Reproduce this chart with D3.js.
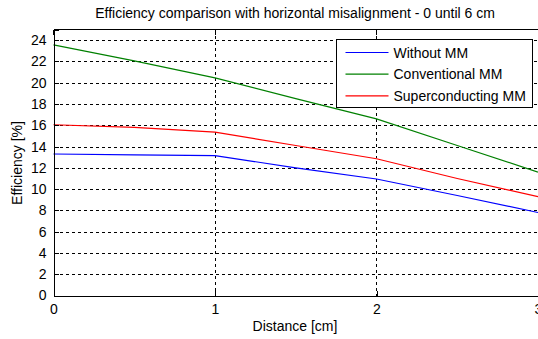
<!DOCTYPE html>
<html>
<head>
<meta charset="utf-8">
<script src="https://cdn.jsdelivr.net/npm/d3@7"></script>
<style>
  body { margin: 0; background: #fff; }
  svg { display: block; font-family: "Liberation Sans", Arial, sans-serif; }
</style>
</head>
<body>
<div class="graph"></div>
<script>
// distance values (cm)
const distance = [0, 0.5, 1, 1.5, 2, 2.5, 3];
// efficiency values (%)
const withoutMM = [13.3, 13.22, 13.15, 12.0, 10.95, 9.4, 7.8];
const conventionalMM = [23.55, 22.05, 20.45, 18.5, 16.6, 14.1, 11.6];
const superconductingMM = [16.05, 15.8, 15.35, 14.1, 12.85, 11.0, 9.3];
const seriesNames = ["Without MM", "Conventional MM", "Superconducting MM"];
const seriesColors = ["#0000ff", "#008000", "#ff0000"];
const xTicks = [0, 1, 2, 3];
const yTicks = [0, 2, 4, 6, 8, 10, 12, 14, 16, 18, 20, 22, 24];

let width = 538, height = 339;
let margin = {left: 53.5, right: 0, top: 29.5, bottom: 43.5};
let fontSize = 14;

let svg = d3.select(".graph").append("svg")
  .attr("width", width)
  .attr("height", height);

svg.append("rect").attr("width", width).attr("height", height).attr("fill", "#fff");

var x = d3.scaleLinear().domain([0, 3]).range([margin.left, width - margin.right]);
var y = d3.scaleLinear().domain([0, 25]).range([height - margin.bottom, margin.top]);

//grid lines
let grid = svg.append("g")
  .attr("stroke", "#000")
  .attr("stroke-width", 1)
  .attr("stroke-dasharray", "3,3")
  .attr("shape-rendering", "crispEdges");
grid.selectAll(".gx").data(xTicks.slice(1)).enter().append("line")
  .attr("x1", d => Math.round(x(d)) + 0.5).attr("x2", d => Math.round(x(d)) + 0.5)
  .attr("y1", y(25)).attr("y2", y(0));
grid.selectAll(".gy").data(yTicks.slice(1)).enter().append("line")
  .attr("x1", x(0)).attr("x2", x(3))
  .attr("y1", d => Math.round(y(d)) + 0.5).attr("y2", d => Math.round(y(d)) + 0.5);

//curves
let data = [withoutMM, conventionalMM, superconductingMM];
let line = d3.line().x((d, i) => x(distance[i])).y(d => y(d));
svg.append("g").selectAll("path").data(data).enter().append("path")
  .attr("d", line)
  .attr("fill", "none")
  .attr("stroke", (d, i) => seriesColors[i])
  .attr("stroke-width", 1.2);

//axes (ticks pointing inward, like matlab)
let xAxis = d3.axisBottom(x).tickValues(xTicks).tickFormat(d3.format("d")).tickSize(-5).tickPadding(9);
let yAxis = d3.axisLeft(y).tickValues(yTicks).tickFormat(d3.format("d")).tickSize(-5).tickPadding(7);
let gx = svg.append("g").attr("transform", `translate(0,${y(0)})`).call(xAxis);
let gy = svg.append("g").attr("transform", `translate(${x(0)},0)`).call(yAxis);
[gx, gy].forEach(g => {
  g.select(".domain").attr("stroke", "#000").attr("shape-rendering", "crispEdges");
  g.selectAll(".tick line").attr("stroke", "#000").attr("shape-rendering", "crispEdges");
  g.selectAll("text").attr("font-size", fontSize).attr("fill", "#000")
    .attr("font-family", "Liberation Sans, Arial, sans-serif");
});
// top border with inward ticks
svg.append("line").attr("x1", x(0)).attr("x2", width).attr("y1", y(25)).attr("y2", y(25))
  .attr("stroke", "#000").attr("shape-rendering", "crispEdges");
svg.append("g").selectAll("line").data(xTicks).enter().append("line")
  .attr("x1", d => x(d)).attr("x2", d => x(d)).attr("y1", y(25)).attr("y2", y(25) + 5)
  .attr("stroke", "#000").attr("shape-rendering", "crispEdges");

//title and labels
svg.append("text").text("Efficiency comparison with horizontal misalignment - 0 until 6 cm")
  .attr("x", 295).attr("y", 18).attr("text-anchor", "middle").attr("font-size", fontSize);
svg.append("text").text("Distance [cm]")
  .attr("x", 295).attr("y", 331).attr("text-anchor", "middle").attr("font-size", fontSize);
svg.append("text").text("Efficiency [%]")
  .attr("transform", "translate(22,163) rotate(-90)")
  .attr("text-anchor", "middle").attr("font-size", fontSize);

//legend
let legend = svg.append("g").attr("transform", "translate(336.5,39.5)");
legend.append("rect").attr("width", 196).attr("height", 68)
  .attr("fill", "#fff").attr("stroke", "#000").attr("shape-rendering", "crispEdges");
seriesNames.forEach((name, i) => {
  let yy = 13 + i * 21.7;
  legend.append("line").attr("x1", 9).attr("x2", 52).attr("y1", yy).attr("y2", yy)
    .attr("stroke", seriesColors[i]).attr("stroke-width", 1.2);
  legend.append("text").text(name).attr("x", 57).attr("y", yy + 5).attr("font-size", fontSize);
});
</script>
</body>
</html>
